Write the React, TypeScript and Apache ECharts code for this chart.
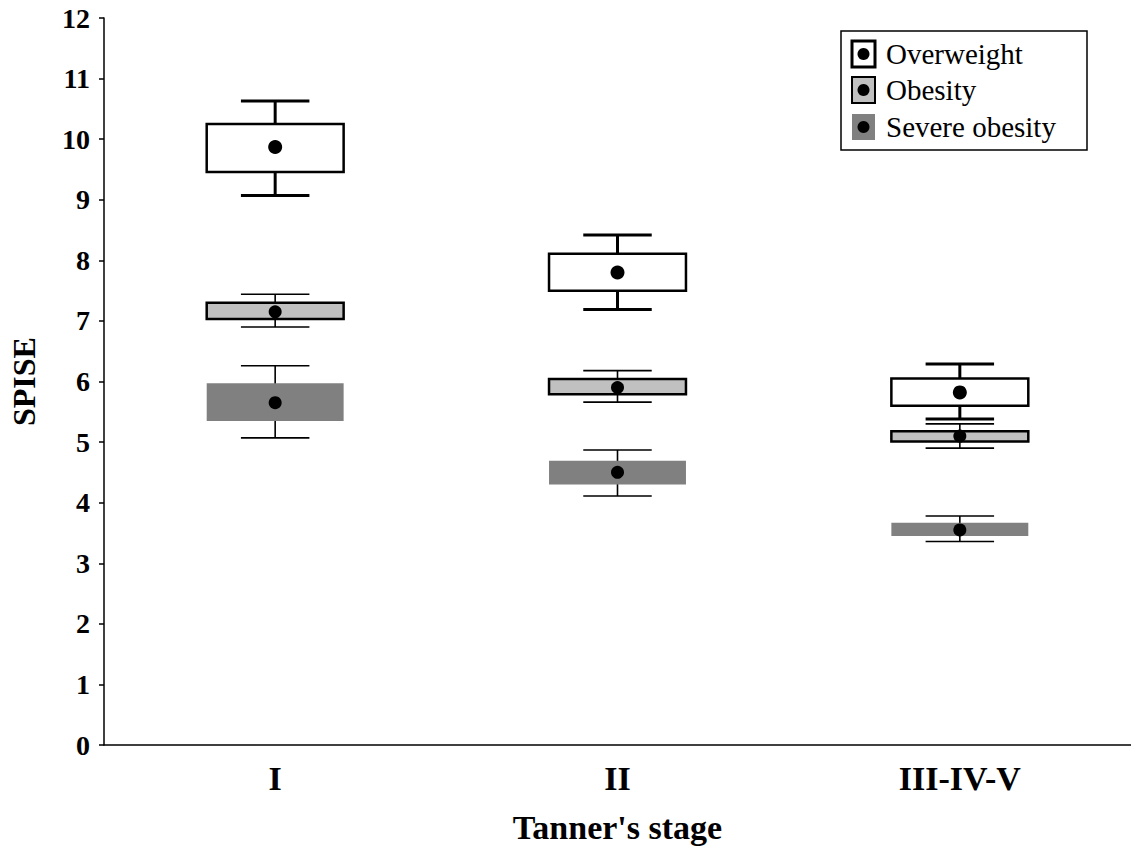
import React, { useEffect, useRef } from "react";
import * as echarts from "echarts";

const categories = ["I", "II", "III-IV-V"];
const seriesNames = ["Overweight", "Obesity", "Severe obesity"];
// each row: [whiskerLow, boxLow, mean, boxHigh, whiskerHigh]
const overweight = [
  [9.07, 9.46, 9.87, 10.25, 10.63],
  [7.19, 7.5, 7.8, 8.11, 8.42],
  [5.38, 5.6, 5.82, 6.05, 6.29],
];
const obesity = [
  [6.9, 7.03, 7.15, 7.3, 7.44],
  [5.66, 5.79, 5.9, 6.04, 6.18],
  [4.9, 5.01, 5.1, 5.18, 5.3],
];
const severeObesity = [
  [5.07, 5.35, 5.65, 5.97, 6.26],
  [4.11, 4.3, 4.5, 4.69, 4.87],
  [3.36, 3.45, 3.55, 3.67, 3.78],
];
const yTicks = { min: 0, max: 12, interval: 1 };

const FONT = "'Liberation Serif', 'Times New Roman', serif";

type Style = { fill: string; stroke: string | null; boxLw: number; whiskLw: number; r: number };
const styles: Style[] = [
  { fill: "#ffffff", stroke: "#000", boxLw: 2.5, whiskLw: 3, r: 7 },
  { fill: "#c0c0c0", stroke: "#000", boxLw: 2.5, whiskLw: 1.6, r: 6.5 },
  { fill: "#808080", stroke: null, boxLw: 0, whiskLw: 1.6, r: 6.5 },
];

function makeRender(st: Style) {
  return (params: any, api: any) => {
    const x = api.value(0);
    const wl = api.coord([x, api.value(1)]);
    const bl = api.coord([x, api.value(2)]);
    const mn = api.coord([x, api.value(3)]);
    const bh = api.coord([x, api.value(4)]);
    const wh = api.coord([x, api.value(5)]);
    const band = api.size([1, 0])[0];
    const cx = wl[0];
    const bw = band * 0.2;
    const cw = band * 0.1;
    const lineStyle = { stroke: "#000", lineWidth: st.whiskLw };
    return {
      type: "group",
      children: [
        { type: "line", shape: { x1: cx, y1: wl[1], x2: cx, y2: wh[1] }, style: lineStyle },
        { type: "line", shape: { x1: cx - cw, y1: wl[1], x2: cx + cw, y2: wl[1] }, style: lineStyle },
        { type: "line", shape: { x1: cx - cw, y1: wh[1], x2: cx + cw, y2: wh[1] }, style: lineStyle },
        {
          type: "rect",
          shape: { x: cx - bw, y: bh[1], width: bw * 2, height: bl[1] - bh[1] },
          style: st.stroke
            ? { fill: st.fill, stroke: st.stroke, lineWidth: st.boxLw }
            : { fill: st.fill },
        },
        { type: "circle", shape: { cx: cx, cy: mn[1], r: st.r }, style: { fill: "#000" } },
      ],
    };
  };
}

function toData(rows: number[][]) {
  return rows.map((r, i) => [i, ...r]);
}

function legendGraphic() {
  const children: any[] = [
    { type: "rect", shape: { x: 841, y: 31, width: 246, height: 119 }, style: { fill: "#fff", stroke: "#000", lineWidth: 1.5 } },
  ];
  const rowsY = [54, 90, 127];
  seriesNames.forEach((name, i) => {
    const st = styles[i];
    const cy = rowsY[i];
    children.push({
      type: "rect",
      shape: { x: 852, y: cy - 13, width: 23, height: 26 },
      style: st.stroke ? { fill: st.fill, stroke: "#000", lineWidth: i === 0 ? 3 : 2 } : { fill: st.fill },
    });
    children.push({ type: "circle", shape: { cx: 863.5, cy: cy, r: 6 }, style: { fill: "#000" } });
    children.push({
      type: "text",
      x: 886,
      y: cy,
      style: { text: name, fill: "#000", font: `29px ${FONT}`, textVerticalAlign: "middle", verticalAlign: "middle" },
    });
  });
  return [{ type: "group", children }];
}

export default function App() {
  const ref = useRef<HTMLDivElement>(null);
  useEffect(() => {
    if (!ref.current) return;
    const chart = echarts.init(ref.current, null, { renderer: "svg" });
    const data = [overweight, obesity, severeObesity];
    chart.setOption({
      animation: false,
      backgroundColor: "#fff",
      grid: { left: 104, right: 8, top: 18, bottom: 102, containLabel: false, outerBoundsMode: "none" },
      xAxis: {
        type: "category",
        data: categories,
        boundaryGap: true,
        name: "Tanner's stage",
        nameLocation: "middle",
        nameGap: 65,
        nameMoveOverlap: false,
        nameTextStyle: { fontFamily: FONT, fontWeight: "bold", fontSize: 34, color: "#000" },
        axisLine: { lineStyle: { color: "#000", width: 1.5 } },
        axisTick: { inside: true, length: 5, alignWithLabel: true, lineStyle: { color: "#000", width: 1.5 } },
        axisLabel: { fontFamily: FONT, fontWeight: "bold", fontSize: 34, color: "#000", margin: 16 },
        splitLine: { show: false },
      },
      yAxis: {
        type: "value",
        min: yTicks.min,
        max: yTicks.max,
        interval: yTicks.interval,
        name: "SPISE",
        nameLocation: "middle",
        nameGap: 64,
        nameMoveOverlap: false,
        nameRotate: 90,
        nameTextStyle: { fontFamily: FONT, fontWeight: "bold", fontSize: 32, color: "#000" },
        axisLine: { show: true, lineStyle: { color: "#000", width: 1.5 } },
        axisTick: { show: true, inside: false, length: 5, lineStyle: { color: "#000", width: 1.5 } },
        axisLabel: { fontFamily: FONT, fontWeight: "bold", fontSize: 28, color: "#000", margin: 14 },
        splitLine: { show: false },
      },
      series: [2, 1, 0].map((i) => ({
        type: "custom",
        name: seriesNames[i],
        renderItem: makeRender(styles[i]),
        encode: { x: 0, y: [1, 2, 3, 4, 5] },
        data: toData(data[i]),
        z: 2 + (2 - i),
      })),
      graphic: legendGraphic(),
    });
    return () => chart.dispose();
  }, []);
  return <div ref={ref} style={{ width: 1139, height: 847, marginLeft: -8, marginTop: -8 }} />;
}
